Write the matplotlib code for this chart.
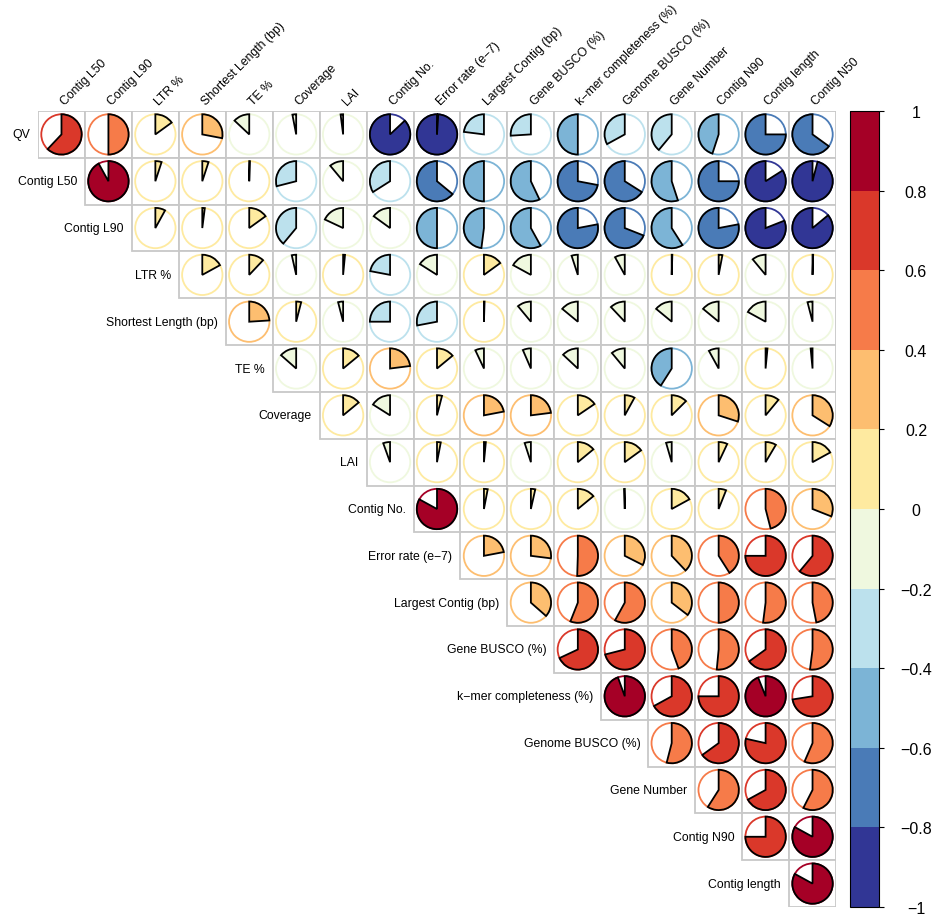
import matplotlib
matplotlib.use('Agg')
from matplotlib import pyplot as plt
from matplotlib.patches import Wedge, Circle, Rectangle
from matplotlib.colors import ListedColormap, BoundaryNorm
import matplotlib.cm as cm

plt.rcParams['font.family'] = ['Liberation Sans', 'DejaVu Sans']

variables = ['QV', 'Contig L50', 'Contig L90', 'LTR %', 'Shortest Length (bp)', 'TE %',
             'Coverage', 'LAI', 'Contig No.', 'Error rate (e\u22127)', 'Largest Contig (bp)',
             'Gene BUSCO (%)', 'k\u2212mer completeness (%)', 'Genome BUSCO (%)', 'Gene Number',
             'Contig N90', 'Contig length', 'Contig N50']

# upper triangle of the correlation matrix, one list per row (diagonal left out)
r_qv = [0.62, 0.50, 0.15, 0.28, -0.13, -0.03, -0.02, -0.87, -0.99, -0.23, -0.26, -0.50,
        -0.33, -0.39, -0.45, -0.75, -0.65]
r_l50 = [0.92, 0.05, 0.05, 0.005, -0.29, -0.11, -0.34, -0.64, -0.50, -0.57, -0.72, -0.66,
         -0.55, -0.75, -0.84, -0.96]
r_l90 = [0.08, 0.02, 0.15, -0.39, -0.18, -0.15, -0.50, -0.48, -0.58, -0.78, -0.69, -0.59,
         -0.78, -0.81, -0.86]
r_ltr = [0.17, 0.12, -0.035, 0.015, -0.22, -0.16, 0.15, -0.17, -0.05, -0.08, 0.005, 0.03,
         -0.11, 0.005]
r_short = [0.24, 0.04, -0.04, -0.25, -0.28, 0.005, -0.11, -0.14, -0.12, -0.14, -0.14, -0.17, -0.04]
r_te = [-0.135, 0.14, 0.23, 0.14, -0.07, -0.065, -0.13, -0.11, -0.41, -0.08, 0.015, -0.015]
r_cov = [0.14, -0.16, 0.04, 0.22, 0.23, 0.155, 0.08, 0.125, 0.30, 0.11, 0.34]
r_lai = [-0.055, 0.03, 0.015, -0.05, 0.14, 0.15, -0.045, 0.07, 0.085, 0.17]
r_cno = [0.83, 0.03, 0.035, 0.14, -0.005, 0.17, 0.06, 0.46, 0.31]
r_err = [0.22, 0.27, 0.505, 0.325, 0.38, 0.41, 0.75, 0.61]
r_largest = [0.365, 0.56, 0.58, 0.355, 0.50, 0.52, 0.47]
r_gbusco = [0.68, 0.71, 0.445, 0.515, 0.65, 0.52]
r_kmer = [0.945, 0.67, 0.75, 0.94, 0.725]
r_genome = [0.54, 0.65, 0.785, 0.565]
r_gnum = [0.59, 0.67, 0.575]
r_n90 = [0.75, 0.83]
r_len = [0.83]

upper = [r_qv, r_l50, r_l90, r_ltr, r_short, r_te, r_cov, r_lai, r_cno, r_err,
         r_largest, r_gbusco, r_kmer, r_genome, r_gnum, r_n90, r_len]

bin_colors = ['#313695', '#4A7BB7', '#7CB4D6', '#BCE1ED', '#EFF8DF',
              '#FEEAA0', '#FDBE70', '#F67B49', '#DA382A', '#A50026']
bounds = [-1, -0.8, -0.6, -0.4, -0.2, 0, 0.2, 0.4, 0.6, 0.8, 1]
cmap = ListedColormap(bin_colors)
norm = BoundaryNorm(bounds, cmap.N)

W, H = 936, 920
fig = plt.figure(figsize=(W / 100, H / 100), dpi=100)
n = len(upper)
ax = fig.add_axes([38 / W, 12 / H, 798 / W, 796 / H])
ax.set_xlim(0, n)
ax.set_ylim(0, n)
ax.axis('off')

grid_col = '#C8C8C8'
rad = 0.43
for i, row in enumerate(upper):
    y = n - i - 0.5
    for k, r in enumerate(row):
        c = i + k
        x = c + 0.5
        ax.add_patch(Rectangle((c, n - i - 1), 1, 1, facecolor='white',
                               edgecolor=grid_col, lw=1.3, zorder=1))
        col = cmap(norm(r))
        ax.add_patch(Circle((x, y), rad, facecolor='none', edgecolor=col, lw=1.3, zorder=2))
        # positive correlations fill clockwise from 12 o'clock, negative ones anticlockwise
        if r >= 0:
            t1, t2 = 90 - 360 * r, 90
        else:
            t1, t2 = 90, 90 - 360 * r
        ax.add_patch(Wedge((x, y), rad, t1, t2, facecolor=col, edgecolor='black',
                           lw=1.3, zorder=3))
    ax.text(i - 0.17, y, variables[i], ha='right', va='center', fontsize=8.8)

for c in range(n):
    ax.text(c + 0.62, n + 0.09, variables[c + 1], rotation=45, rotation_mode='anchor',
            ha='left', va='bottom', fontsize=8.8)

# colour legend
cax = fig.add_axes([850 / W, 12 / H, 29 / W, 796 / H])
cb = fig.colorbar(cm.ScalarMappable(norm=norm, cmap=cmap), cax=cax, ticks=bounds)
cb.outline.set_linewidth(0.8)
cb.ax.tick_params(direction='out', length=3.6, width=0.8, pad=23, labelsize=11.5)
cb.ax.set_yticklabels(['\u22121', '\u22120.8', '\u22120.6', '\u22120.4', '\u22120.2', '0',
                       '0.2', '0.4', '0.6', '0.8', '1'])
for lab in cb.ax.get_yticklabels():
    lab.set_horizontalalignment('center')

fig.savefig('out.png', dpi=100)
